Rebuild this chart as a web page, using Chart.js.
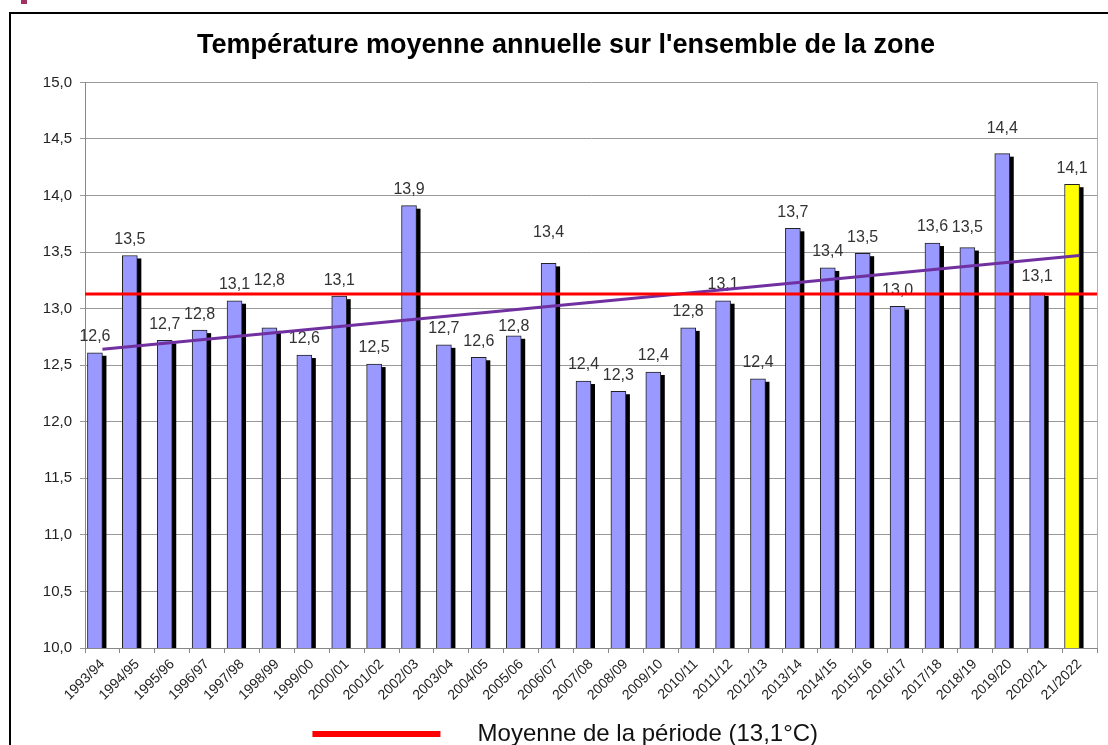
<!DOCTYPE html>
<html>
<head>
<meta charset="utf-8">
<script src="https://cdn.jsdelivr.net/npm/chart.js@4/dist/chart.umd.min.js"></script>
<style>
    html, body { margin: 0; padding: 0; background: #fff; overflow: hidden; }
    #page { position: relative; width: 1108px; height: 745px; }
    #cadre { position: absolute; left: 9px; top: 12px; width: 1200px; height: 800px; border-left: 2px solid #000; border-top: 2px solid #000; }
    #marque { position: absolute; left: 21px; top: 0; width: 6px; height: 4px; background: #a0335f; }
    #wrap { position: absolute; left: 35px; top: 0; width: 1073px; height: 745px; }
</style>
</head>
<body>
<div id="page">
    <div id="marque"></div>
    <div id="cadre"></div>
    <div id="wrap"><canvas id="graphTemp"></canvas></div>
</div>
<script>
// Saisons
const saisons = ['1993/94', '1994/95', '1995/96', '1996/97', '1997/98', '1998/99', '1999/00', '2000/01',
    '2001/02', '2002/03', '2003/04', '2004/05', '2005/06', '2006/07', '2007/08', '2008/09', '2009/10',
    '2010/11', '2011/12', '2012/13', '2013/14', '2014/15', '2015/16', '2016/17', '2017/18', '2018/19',
    '2019/20', '2020/21', '21/2022'];

// Températures moyennes (°C)
const temperatures = [12.61, 13.47, 12.72, 12.81, 13.07, 12.83, 12.59, 13.11, 12.51, 13.91,
    12.68, 12.57, 12.76, 13.40, 12.36, 12.27, 12.44, 12.83, 13.07, 12.38,
    13.71, 13.36, 13.49, 13.02, 13.58, 13.54, 14.37, 13.14, 14.10];

// Tendance (début et fin)
const tendance = [12.64, 13.47];

// Moyenne de la période
const moyenne = 13.13;
const legendeMoyenne = 'Moyenne de la période (13,1°C)';

// Graduations de l'axe Y
const yMin = 10, yMax = 15, yPas = 0.5;

// Couleurs
const couleurBarres = temperatures.map((v, i) => i === temperatures.length - 1 ? '#ffff00' : '#9999ff');

// Décalage des étiquettes (px au-dessus de la barre)
const decalageEtiquettes = {5: 47, 12: 9, 13: 31, 25: 20, 26: 25};

const police = '"Liberation Sans", Arial, sans-serif';
const formatVal = (v) => v.toFixed(1).replace('.', ',');

const tendanceData = saisons.map((s, i) => {
    if (i === 0) return tendance[0];
    if (i === saisons.length - 1) return tendance[1];
    return null;
});

// Ombre des barres + étiquettes
const ombrePlugin = {
    id: 'ombre',
    beforeDatasetDraw(chart, args) {
        if (args.index !== 0) return;
        const ctx = chart.ctx;
        const meta = chart.getDatasetMeta(0);
        const bas = chart.chartArea.bottom;
        ctx.save();
        ctx.fillStyle = '#000';
        meta.data.forEach((bar) => {
            const p = bar.getProps(['x', 'y', 'width'], true);
            ctx.fillRect(p.x - p.width / 2 + 4, p.y + 3, p.width, bas - p.y - 3);
        });
        ctx.restore();
    },
    afterDatasetDraw(chart, args) {
        if (args.index !== 0) return;
        const ctx = chart.ctx;
        const meta = chart.getDatasetMeta(0);
        ctx.save();
        ctx.font = '16px ' + police;
        ctx.fillStyle = '#333';
        ctx.textAlign = 'center';
        ctx.textBaseline = 'middle';
        meta.data.forEach((bar, i) => {
            const d = decalageEtiquettes[i] || 16;
            ctx.fillText(formatVal(temperatures[i]), bar.x, bar.y - d);
        });
        ctx.restore();
    }
};

// Bord droit du graphique
const bordPlugin = {
    id: 'bord',
    afterDraw(chart) {
        const a = chart.chartArea;
        const ctx = chart.ctx;
        ctx.save();
        ctx.strokeStyle = '#b0b0b0';
        ctx.lineWidth = 1;
        ctx.beginPath();
        ctx.moveTo(a.right + 0.5, a.top);
        ctx.lineTo(a.right + 0.5, a.bottom);
        ctx.stroke();
        ctx.restore();
    }
};

const ctx = document.getElementById('graphTemp');

new Chart(ctx, {
    type: 'bar',
    data: {
        labels: saisons,
        datasets: [{
            type: 'bar',
            label: 'Température',
            data: temperatures,
            backgroundColor: couleurBarres,
            borderColor: '#222',
            borderWidth: 1,
            barThickness: 15,
            order: 3
        }, {
            type: 'line',
            label: 'Tendance',
            data: tendanceData,
            spanGaps: true,
            borderColor: '#7030a0',
            borderWidth: 3,
            pointRadius: 0,
            order: 2
        }, {
            type: 'line',
            label: legendeMoyenne,
            data: [{x: 0, y: moyenne}, {x: 1, y: moyenne}],
            xAxisID: 'x2',
            borderColor: '#ff0000',
            backgroundColor: '#ff0000',
            borderWidth: 3,
            pointRadius: 0,
            order: 1
        }]
    },
    options: {
        responsive: true,
        maintainAspectRatio: false,
        animation: false,
        layout: { padding: { left: 0, right: 11, top: 0, bottom: -11 } },
        plugins: {
            title: {
                display: true,
                text: "Température moyenne annuelle sur l'ensemble de la zone",
                color: '#000',
                font: { family: police, size: 27, weight: 'bold' },
                padding: { top: 29, bottom: 21 }
            },
            legend: {
                position: 'bottom',
                labels: {
                    generateLabels: (chart) => Chart.defaults.plugins.legend.labels.generateLabels(chart)
                        .filter((item) => item.datasetIndex === 2)
                        .map((item) => Object.assign(item, { text: '    ' + item.text })),
                    boxWidth: 125,
                    boxHeight: 3,
                    color: '#111',
                    font: { family: police, size: 24 },
                    padding: 2
                }
            },
            tooltip: { enabled: false }
        },
        scales: {
            x: {
                type: 'category',
                offset: true,
                grid: {
                    offset: true,
                    drawOnChartArea: false,
                    color: '#888',
                    tickLength: 5
                },
                border: { color: '#888' },
                ticks: {
                    color: '#222',
                    minRotation: 45,
                    maxRotation: 45,
                    autoSkip: false,
                    font: { family: police, size: 14 }
                },
                afterFit: (scale) => { scale.height = 72; }
            },
            x2: {
                type: 'linear',
                min: 0,
                max: 1,
                offset: false,
                display: false
            },
            y: {
                min: yMin,
                max: yMax,
                grid: { color: '#999', tickLength: 5 },
                border: { color: '#888' },
                ticks: {
                    stepSize: yPas,
                    color: '#222',
                    padding: 8,
                    font: { family: police, size: 15 },
                    callback: (v) => formatVal(v)
                },
                afterFit: (scale) => { scale.width = 50; }
            }
        }
    },
    plugins: [ombrePlugin, bordPlugin]
});
</script>
</body>
</html>
